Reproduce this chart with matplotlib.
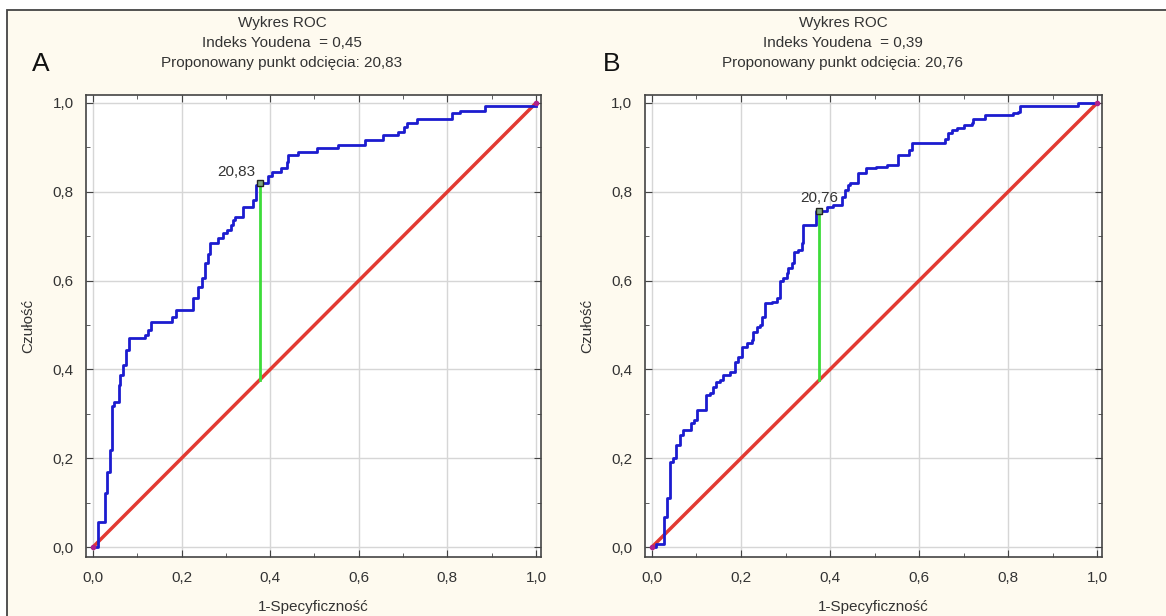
import matplotlib
matplotlib.use("Agg")
import matplotlib.pyplot as plt
from matplotlib.patches import Rectangle
from matplotlib.ticker import MultipleLocator, FuncFormatter

plt.rcParams['font.family'] = ['Liberation Sans', 'DejaVu Sans']

# ---- data ----
fpr_a = [0.0, 0.012, 0.027, 0.031, 0.038, 0.044, 0.048, 0.059, 0.062, 0.068, 0.075, 0.082,
         0.117, 0.125, 0.132, 0.178, 0.188, 0.226, 0.236, 0.245, 0.253, 0.26, 0.264, 0.283,
         0.294, 0.302, 0.312, 0.317, 0.32, 0.339, 0.362, 0.367, 0.372, 0.396, 0.405, 0.425,
         0.437, 0.441, 0.463, 0.505, 0.554, 0.614, 0.655, 0.689, 0.703, 0.708, 0.731, 0.81,
         0.828, 0.885, 1.0]
tpr_a = [0.0, 0.057, 0.121, 0.17, 0.218, 0.318, 0.327, 0.365, 0.387, 0.41, 0.444, 0.47,
         0.477, 0.489, 0.507, 0.519, 0.534, 0.56, 0.586, 0.606, 0.639, 0.661, 0.684, 0.695,
         0.707, 0.714, 0.725, 0.736, 0.744, 0.766, 0.781, 0.815, 0.82, 0.835, 0.845, 0.853,
         0.868, 0.883, 0.89, 0.898, 0.905, 0.917, 0.928, 0.935, 0.945, 0.954, 0.963, 0.977,
         0.983, 0.993, 0.993]
cut_a = (0.377, 0.82)
label_a = "20,83"

fpr_b = [0.0, 0.01, 0.027, 0.033, 0.041, 0.048, 0.055, 0.062, 0.069, 0.087, 0.095, 0.102,
         0.122, 0.13, 0.138, 0.144, 0.153, 0.159, 0.176, 0.187, 0.194, 0.202, 0.213, 0.224,
         0.228, 0.235, 0.243, 0.247, 0.254, 0.269, 0.28, 0.288, 0.295, 0.303, 0.306, 0.314,
         0.318, 0.329, 0.336, 0.34, 0.368, 0.393, 0.407, 0.426, 0.434, 0.441, 0.445, 0.462,
         0.481, 0.503, 0.527, 0.553, 0.578, 0.584, 0.658, 0.666, 0.674, 0.685, 0.7, 0.718,
         0.722, 0.744, 0.748, 0.812, 0.823, 0.827, 0.958, 1.0]
tpr_b = [0.0, 0.006, 0.068, 0.11, 0.192, 0.2, 0.23, 0.252, 0.264, 0.279, 0.286, 0.309,
         0.342, 0.346, 0.361, 0.372, 0.376, 0.387, 0.395, 0.417, 0.429, 0.451, 0.459, 0.466,
         0.485, 0.496, 0.5, 0.519, 0.549, 0.552, 0.56, 0.598, 0.605, 0.616, 0.628, 0.639,
         0.665, 0.669, 0.684, 0.725, 0.757, 0.766, 0.77, 0.789, 0.804, 0.815, 0.819, 0.842,
         0.853, 0.856, 0.86, 0.883, 0.894, 0.909, 0.92, 0.932, 0.939, 0.943, 0.95, 0.954,
         0.963, 0.965, 0.973, 0.978, 0.98, 0.993, 1.0, 1.0]
cut_b = (0.376, 0.757)
label_b = "20,76"

titles_a = ["Wykres ROC", "Indeks Youdena  = 0,45", "Proponowany punkt odcięcia: 20,83"]
titles_b = ["Wykres ROC", "Indeks Youdena  = 0,39", "Proponowany punkt odcięcia: 20,76"]
panel_letters = ["A", "B"]
xlabel = "1-Specyficzność"
ylabel = "Czułość"

# ---- figure ----
W, H = 1166, 616
fig = plt.figure(figsize=(W / 100, H / 100), dpi=100, facecolor='white')
bg = Rectangle((7 / W, -0.05), 1.1, (H - 10) / H + 0.05, transform=fig.transFigure,
               facecolor='#fefaef', edgecolor='#444444', linewidth=1.3, zorder=-10)
fig.patches.append(bg)

def px_axes(l, r, t, b):
    return [l / W, (H - b) / H, (r - l) / W, (b - t) / H]

BLUE = '#1c1ccf'
RED = '#e23a32'
GREEN = '#3ddc3a'
TXT = '#333333'

fmt = FuncFormatter(lambda v, p: f"{v:.1f}".replace('.', ','))

panels = [
    (fpr_a, tpr_a, cut_a, label_a, titles_a, panel_letters[0], px_axes(86, 541, 95, 557),
     (-0.0158, 1.0113), 282, 41, 'right', (-3, 3)),
    (fpr_b, tpr_b, cut_b, label_b, titles_b, panel_letters[1], px_axes(645, 1102, 95, 557),
     (-0.0157, 1.011), 843, 612, 'center', (0, 4)),
]

for fpr, tpr, cut, lab, titles, letter, pos, xlim, tx, lx, ha, off in panels:
    ax = fig.add_axes(pos, zorder=2)
    ax.set_facecolor('white')
    ax.set_xlim(*xlim)
    ax.set_ylim(-0.0225, 1.018)
    ax.xaxis.set_major_locator(MultipleLocator(0.2))
    ax.yaxis.set_major_locator(MultipleLocator(0.2))
    ax.xaxis.set_minor_locator(MultipleLocator(0.1))
    ax.yaxis.set_minor_locator(MultipleLocator(0.1))
    ax.xaxis.set_major_formatter(fmt)
    ax.yaxis.set_major_formatter(fmt)
    ax.tick_params(which='both', direction='in', top=True, right=True, colors='#444444',
                   labelcolor=TXT, labelsize=11)
    ax.tick_params(which='major', length=5, pad=10)
    ax.tick_params(which='minor', length=3)
    ax.tick_params(axis='y', which='major', pad=9)
    ax.grid(True, which='major', color='#d6d6d6', linewidth=1)
    ax.set_axisbelow(True)
    for s in ax.spines.values():
        s.set_color('#444444')
        s.set_linewidth(1.2)

    ax.plot([0, 1], [0, 1], color=RED, lw=2.5, zorder=3, solid_capstyle='butt')
    ax.plot(fpr, tpr, drawstyle='steps-post', color=BLUE, lw=2.0, zorder=4)
    ax.plot([cut[0], cut[0]], [cut[0], cut[1]], color=GREEN, lw=2.0, zorder=5)
    ax.plot([cut[0]], [cut[1]], marker='s', ms=5, mfc='#7fa87f', mec='#222222', mew=1.0,
            zorder=6, linestyle='none')
    ax.plot([0, 1], [0, 1], marker='o', ms=3, color='#b0208a', linestyle='none', zorder=7)
    ax.annotate(lab, xy=cut, xytext=off, textcoords='offset points', ha=ha, va='bottom',
                fontsize=11, color=TXT, zorder=8)

    ax.set_xlabel(xlabel, fontsize=11, color=TXT, labelpad=11)
    ax.set_ylabel(ylabel, fontsize=11, color=TXT, labelpad=12)

    for i, t in enumerate(titles):
        fig.text(tx / W, (H - 23 - 20 * i) / H, t, ha='center', va='center',
                 fontsize=11, color=TXT)
    fig.text(lx / W, (H - 64) / H, letter, ha='center', va='center', fontsize=19,
             color='#111111')

fig.savefig('out.png', dpi=100, facecolor=fig.get_facecolor())
